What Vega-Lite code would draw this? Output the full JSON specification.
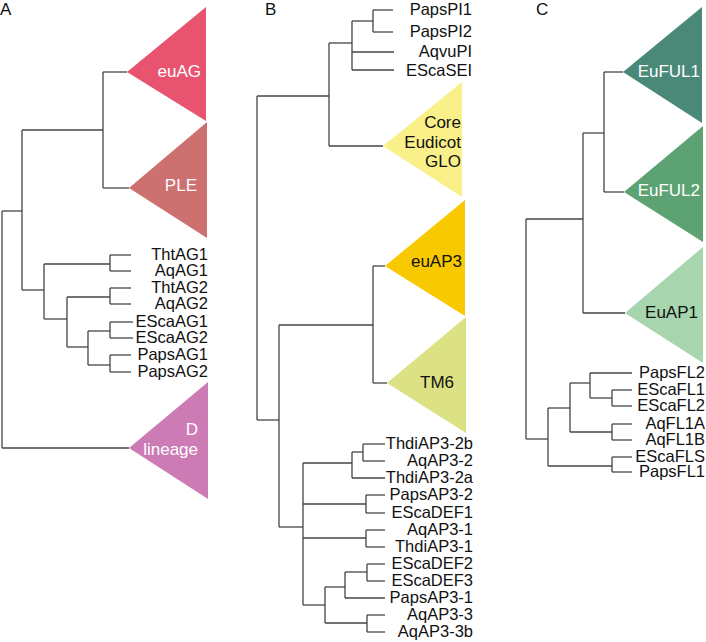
{
  "$schema": "https://vega.github.io/schema/vega-lite/v6.json",
  "width": 706,
  "height": 642,
  "padding": 0,
  "autosize": {"type": "fit", "contains": "padding"},
  "background": "white",
  "config": {"view": {"stroke": null}, "text": {"font": "Liberation Sans"}},
  "datasets": {
    "tri": [
      {"clade": "euAG", "x": 127, "y": 72, "y2": 72},
      {"clade": "euAG", "x": 206, "y": 7, "y2": 121},
      {"clade": "PLE", "x": 129, "y": 188, "y2": 188},
      {"clade": "PLE", "x": 207, "y": 122, "y2": 238},
      {"clade": "D lineage", "x": 129, "y": 448, "y2": 448},
      {"clade": "D lineage", "x": 208, "y": 382, "y2": 499},
      {"clade": "Core Eudicot GLO", "x": 383, "y": 146, "y2": 146},
      {"clade": "Core Eudicot GLO", "x": 462, "y": 82, "y2": 197},
      {"clade": "euAP3", "x": 385, "y": 266, "y2": 266},
      {"clade": "euAP3", "x": 465, "y": 200, "y2": 316},
      {"clade": "TM6", "x": 387, "y": 383, "y2": 383},
      {"clade": "TM6", "x": 466, "y": 317, "y2": 433},
      {"clade": "EuFUL1", "x": 623, "y": 72, "y2": 72},
      {"clade": "EuFUL1", "x": 702, "y": 7, "y2": 123},
      {"clade": "EuFUL2", "x": 624, "y": 192, "y2": 192},
      {"clade": "EuFUL2", "x": 703, "y": 126, "y2": 242},
      {"clade": "EuAP1", "x": 625, "y": 313, "y2": 313},
      {"clade": "EuAP1", "x": 703, "y": 247, "y2": 363}
    ],
    "seg": [
      {"x": 103, "y": 72, "x2": 127, "y2": 72},
      {"x": 103, "y": 188, "x2": 129, "y2": 188},
      {"x": 103, "y": 72, "x2": 103, "y2": 188},
      {"x": 22, "y": 130, "x2": 103, "y2": 130},
      {"x": 22, "y": 130, "x2": 22, "y2": 290},
      {"x": 2, "y": 211, "x2": 22, "y2": 211},
      {"x": 2, "y": 211, "x2": 2, "y2": 448},
      {"x": 2, "y": 448, "x2": 129, "y2": 448},
      {"x": 22, "y": 290, "x2": 44, "y2": 290},
      {"x": 44, "y": 264, "x2": 44, "y2": 319},
      {"x": 44, "y": 264, "x2": 110, "y2": 264},
      {"x": 110, "y": 255, "x2": 110, "y2": 271},
      {"x": 110, "y": 255, "x2": 131, "y2": 255},
      {"x": 110, "y": 271, "x2": 131, "y2": 271},
      {"x": 44, "y": 319, "x2": 67, "y2": 319},
      {"x": 67, "y": 297, "x2": 67, "y2": 347},
      {"x": 67, "y": 297, "x2": 110, "y2": 297},
      {"x": 110, "y": 288, "x2": 110, "y2": 304},
      {"x": 110, "y": 288, "x2": 131, "y2": 288},
      {"x": 110, "y": 304, "x2": 131, "y2": 304},
      {"x": 67, "y": 347, "x2": 88, "y2": 347},
      {"x": 88, "y": 331, "x2": 88, "y2": 365},
      {"x": 88, "y": 331, "x2": 110, "y2": 331},
      {"x": 110, "y": 322, "x2": 110, "y2": 338},
      {"x": 110, "y": 322, "x2": 133, "y2": 322},
      {"x": 110, "y": 338, "x2": 133, "y2": 338},
      {"x": 88, "y": 365, "x2": 110, "y2": 365},
      {"x": 110, "y": 355, "x2": 110, "y2": 372},
      {"x": 110, "y": 355, "x2": 131, "y2": 355},
      {"x": 110, "y": 372, "x2": 131, "y2": 372},

      {"x": 373, "y": 10, "x2": 373, "y2": 32},
      {"x": 373, "y": 10, "x2": 393, "y2": 10},
      {"x": 373, "y": 32, "x2": 393, "y2": 32},
      {"x": 352, "y": 21, "x2": 373, "y2": 21},
      {"x": 352, "y": 21, "x2": 352, "y2": 70},
      {"x": 352, "y": 52, "x2": 394, "y2": 52},
      {"x": 352, "y": 70, "x2": 394, "y2": 70},
      {"x": 329, "y": 43, "x2": 352, "y2": 43},
      {"x": 329, "y": 43, "x2": 329, "y2": 146},
      {"x": 329, "y": 146, "x2": 383, "y2": 146},
      {"x": 257, "y": 96, "x2": 329, "y2": 96},
      {"x": 257, "y": 96, "x2": 257, "y2": 420},
      {"x": 257, "y": 420, "x2": 279, "y2": 420},
      {"x": 279, "y": 325, "x2": 279, "y2": 527},
      {"x": 279, "y": 325, "x2": 373, "y2": 325},
      {"x": 373, "y": 266, "x2": 373, "y2": 383},
      {"x": 373, "y": 266, "x2": 385, "y2": 266},
      {"x": 373, "y": 383, "x2": 387, "y2": 383},
      {"x": 279, "y": 527, "x2": 303, "y2": 527},
      {"x": 303, "y": 463, "x2": 303, "y2": 605},
      {"x": 303, "y": 463, "x2": 352, "y2": 463},
      {"x": 352, "y": 452, "x2": 352, "y2": 478},
      {"x": 352, "y": 452, "x2": 363, "y2": 452},
      {"x": 363, "y": 444, "x2": 363, "y2": 461},
      {"x": 363, "y": 444, "x2": 385, "y2": 444},
      {"x": 363, "y": 461, "x2": 385, "y2": 461},
      {"x": 352, "y": 478, "x2": 385, "y2": 478},
      {"x": 303, "y": 504, "x2": 366, "y2": 504},
      {"x": 366, "y": 495, "x2": 366, "y2": 513},
      {"x": 366, "y": 495, "x2": 385, "y2": 495},
      {"x": 366, "y": 513, "x2": 385, "y2": 513},
      {"x": 303, "y": 538, "x2": 366, "y2": 538},
      {"x": 366, "y": 530, "x2": 366, "y2": 547},
      {"x": 366, "y": 530, "x2": 385, "y2": 530},
      {"x": 366, "y": 547, "x2": 385, "y2": 547},
      {"x": 303, "y": 605, "x2": 325, "y2": 605},
      {"x": 325, "y": 587, "x2": 325, "y2": 623},
      {"x": 325, "y": 587, "x2": 345, "y2": 587},
      {"x": 345, "y": 572, "x2": 345, "y2": 598},
      {"x": 345, "y": 572, "x2": 367, "y2": 572},
      {"x": 367, "y": 564, "x2": 367, "y2": 581},
      {"x": 367, "y": 564, "x2": 385, "y2": 564},
      {"x": 367, "y": 581, "x2": 385, "y2": 581},
      {"x": 345, "y": 598, "x2": 385, "y2": 598},
      {"x": 325, "y": 623, "x2": 367, "y2": 623},
      {"x": 367, "y": 615, "x2": 367, "y2": 632},
      {"x": 367, "y": 615, "x2": 385, "y2": 615},
      {"x": 367, "y": 632, "x2": 385, "y2": 632},

      {"x": 604, "y": 72, "x2": 623, "y2": 72},
      {"x": 604, "y": 192, "x2": 624, "y2": 192},
      {"x": 604, "y": 72, "x2": 604, "y2": 192},
      {"x": 583, "y": 133, "x2": 604, "y2": 133},
      {"x": 583, "y": 133, "x2": 583, "y2": 313},
      {"x": 583, "y": 313, "x2": 625, "y2": 313},
      {"x": 526, "y": 219, "x2": 583, "y2": 219},
      {"x": 526, "y": 219, "x2": 526, "y2": 439},
      {"x": 526, "y": 439, "x2": 548, "y2": 439},
      {"x": 548, "y": 408, "x2": 548, "y2": 466},
      {"x": 548, "y": 408, "x2": 570, "y2": 408},
      {"x": 570, "y": 383, "x2": 570, "y2": 432},
      {"x": 570, "y": 383, "x2": 590, "y2": 383},
      {"x": 590, "y": 373, "x2": 590, "y2": 398},
      {"x": 590, "y": 373, "x2": 632, "y2": 373},
      {"x": 590, "y": 398, "x2": 612, "y2": 398},
      {"x": 612, "y": 390, "x2": 612, "y2": 406},
      {"x": 612, "y": 390, "x2": 632, "y2": 390},
      {"x": 612, "y": 406, "x2": 632, "y2": 406},
      {"x": 570, "y": 432, "x2": 612, "y2": 432},
      {"x": 612, "y": 424, "x2": 612, "y2": 440},
      {"x": 612, "y": 424, "x2": 632, "y2": 424},
      {"x": 612, "y": 440, "x2": 632, "y2": 440},
      {"x": 548, "y": 466, "x2": 612, "y2": 466},
      {"x": 612, "y": 457, "x2": 612, "y2": 472},
      {"x": 612, "y": 457, "x2": 632, "y2": 457},
      {"x": 612, "y": 472, "x2": 632, "y2": 472}
    ],
    "leaves": [
      {"name": "ThtAG1", "x": 208, "y": 255},
      {"name": "AqAG1", "x": 208, "y": 271},
      {"name": "ThtAG2", "x": 208, "y": 288},
      {"name": "AqAG2", "x": 208, "y": 304},
      {"name": "EScaAG1", "x": 208, "y": 322},
      {"name": "EScaAG2", "x": 208, "y": 338},
      {"name": "PapsAG1", "x": 208, "y": 355},
      {"name": "PapsAG2", "x": 208, "y": 372},
      {"name": "PapsPI1", "x": 472, "y": 10},
      {"name": "PapsPI2", "x": 472, "y": 32},
      {"name": "AqvuPI", "x": 472, "y": 52},
      {"name": "EScaSEI", "x": 472, "y": 71},
      {"name": "ThdiAP3-2b", "x": 473, "y": 444},
      {"name": "AqAP3-2", "x": 473, "y": 461},
      {"name": "ThdiAP3-2a", "x": 473, "y": 478},
      {"name": "PapsAP3-2", "x": 473, "y": 495},
      {"name": "EScaDEF1", "x": 473, "y": 513},
      {"name": "AqAP3-1", "x": 473, "y": 530},
      {"name": "ThdiAP3-1", "x": 473, "y": 547},
      {"name": "EScaDEF2", "x": 473, "y": 564},
      {"name": "EScaDEF3", "x": 473, "y": 581},
      {"name": "PapsAP3-1", "x": 473, "y": 598},
      {"name": "AqAP3-3", "x": 473, "y": 615},
      {"name": "AqAP3-3b", "x": 473, "y": 632},
      {"name": "PapsFL2", "x": 705, "y": 373},
      {"name": "EScaFL1", "x": 705, "y": 390},
      {"name": "EScaFL2", "x": 705, "y": 406},
      {"name": "AqFL1A", "x": 705, "y": 424},
      {"name": "AqFL1B", "x": 705, "y": 440},
      {"name": "EScaFLS", "x": 705, "y": 457},
      {"name": "PapsFL1", "x": 705, "y": 472}
    ],
    "cladeLabels": [
      {"clade": "euAG", "label": "euAG", "x": 201, "y": 72},
      {"clade": "PLE", "label": "PLE", "x": 197, "y": 186},
      {"clade": "D lineage", "label": "D\nlineage", "x": 198, "y": 430},
      {"clade": "Core Eudicot GLO", "label": "Core\nEudicot\nGLO", "x": 461, "y": 123},
      {"clade": "euAP3", "label": "euAP3", "x": 462, "y": 262},
      {"clade": "TM6", "label": "TM6", "x": 454, "y": 383},
      {"clade": "EuFUL1", "label": "EuFUL1", "x": 700, "y": 72},
      {"clade": "EuFUL2", "label": "EuFUL2", "x": 700, "y": 191},
      {"clade": "EuAP1", "label": "EuAP1", "x": 698, "y": 313}
    ],
    "panels": [
      {"p": "A", "x": 0, "y": 10},
      {"p": "B", "x": 265, "y": 10},
      {"p": "C", "x": 536, "y": 10}
    ]
  },
  "layer": [
    {
      "data": {"name": "tri"},
      "mark": {"type": "area", "orient": "vertical", "interpolate": "linear", "opacity": 1},
      "encoding": {
        "x": {"field": "x", "type": "quantitative", "scale": {"domain": [0, 706], "nice": false, "zero": false}, "axis": null},
        "y": {"field": "y", "type": "quantitative", "stack": null, "scale": {"domain": [0, 642], "reverse": true, "nice": false, "zero": false}, "axis": null},
        "y2": {"field": "y2"},
        "color": {
          "field": "clade", "type": "nominal", "legend": null,
          "scale": {
            "domain": ["euAG", "PLE", "D lineage", "Core Eudicot GLO", "euAP3", "TM6", "EuFUL1", "EuFUL2", "EuAP1"],
            "range": ["#E85470", "#CC7070", "#CC7BB5", "#FAF08A", "#F9C900", "#DCE183", "#4A8878", "#5DA272", "#A6D5AE"]
          }
        }
      }
    },
    {
      "data": {"name": "seg"},
      "mark": {"type": "rule", "color": "#444444", "strokeWidth": 1.3},
      "encoding": {
        "x": {"field": "x", "type": "quantitative", "scale": {"domain": [0, 706], "nice": false, "zero": false}, "axis": null},
        "y": {"field": "y", "type": "quantitative", "scale": {"domain": [0, 642], "reverse": true, "nice": false, "zero": false}, "axis": null},
        "x2": {"field": "x2"},
        "y2": {"field": "y2"}
      }
    },
    {
      "data": {"name": "leaves"},
      "mark": {"type": "text", "align": "right", "baseline": "middle", "fontSize": 16.5, "color": "#111111"},
      "encoding": {
        "x": {"field": "x", "type": "quantitative", "axis": null},
        "y": {"field": "y", "type": "quantitative", "axis": null},
        "text": {"field": "name"}
      }
    },
    {
      "data": {"name": "cladeLabels"},
      "transform": [{"filter": {"field": "clade", "oneOf": ["euAG", "PLE", "D lineage", "EuFUL1", "EuFUL2"]}}],
      "mark": {"type": "text", "align": "right", "baseline": "middle", "fontSize": 17, "color": "white", "lineBreak": "\n", "lineHeight": 19.5},
      "encoding": {
        "x": {"field": "x", "type": "quantitative", "axis": null},
        "y": {"field": "y", "type": "quantitative", "axis": null},
        "text": {"field": "label"}
      }
    },
    {
      "data": {"name": "cladeLabels"},
      "transform": [{"filter": {"field": "clade", "oneOf": ["Core Eudicot GLO", "euAP3", "TM6", "EuAP1"]}}],
      "mark": {"type": "text", "align": "right", "baseline": "middle", "fontSize": 17, "color": "#111111", "lineBreak": "\n", "lineHeight": 19.5},
      "encoding": {
        "x": {"field": "x", "type": "quantitative", "axis": null},
        "y": {"field": "y", "type": "quantitative", "axis": null},
        "text": {"field": "label"}
      }
    },
    {
      "data": {"name": "panels"},
      "mark": {"type": "text", "align": "left", "baseline": "middle", "fontSize": 17, "color": "#111111"},
      "encoding": {
        "x": {"field": "x", "type": "quantitative", "axis": null},
        "y": {"field": "y", "type": "quantitative", "axis": null},
        "text": {"field": "p"}
      }
    }
  ]
}
